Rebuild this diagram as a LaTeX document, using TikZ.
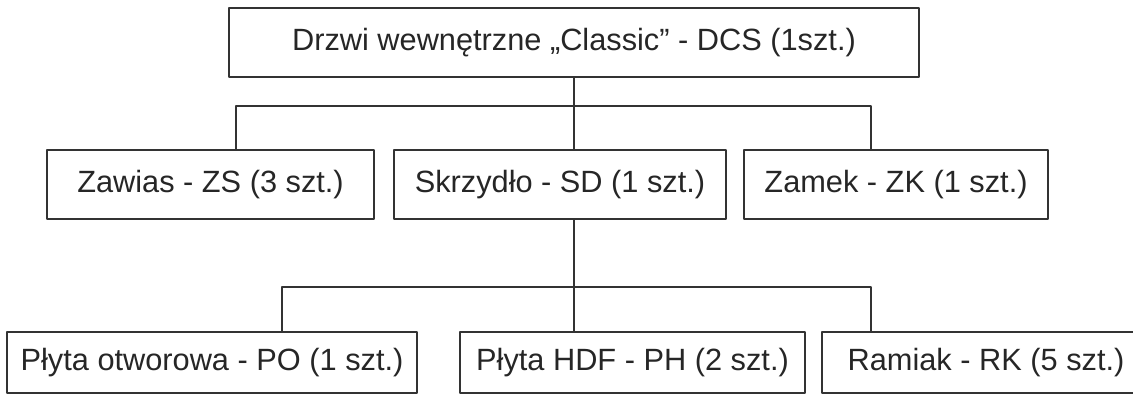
\documentclass[tikz,border=0pt]{standalone}
\usepackage{fontspec}
\setmainfont{Liberation Sans}
\begin{document}
\begin{tikzpicture}[x=0.02cm,y=-0.02cm,line join=round,line cap=round,
	font=\fontsize{17.5}{21}\selectfont,
	box/.style={draw=black!80,line width=1.1pt,text=black!85,inner sep=0pt,minimum height=1.38cm},
	lowbox/.style={box,minimum height=1.22cm},
	link/.style={draw=black!80,line width=1pt}]
	\useasboundingbox (0,0) rectangle (1133,398);
	\node [box,minimum width=13.8cm] (dcs) at (574,42.5) {Drzwi wewnętrzne „Classic” - DCS (1szt.)};
	\node [box,minimum width=6.54cm] (zs) at (210.5,184.5) {Zawias - ZS (3 szt.)};
	\node [box,minimum width=6.64cm] (sd) at (560,184.5) {Skrzydło - SD (1 szt.)};
	\node [box,minimum width=6.08cm] (zk) at (896,184.5) {Zamek - ZK (1 szt.)};
	\node [lowbox,minimum width=8.2cm] (po) at (212,362.5) {Płyta otworowa - PO (1 szt.)};
	\node [lowbox,minimum width=6.9cm] (ph) at (632.5,362.5) {Płyta HDF - PH (2 szt.)};
	\node [lowbox,minimum width=6.56cm] (rk) at (986,362.5) {Ramiak - RK (5 szt.)};
	\coordinate (legA) at (236,106);
	\coordinate (legB) at (871,106);
	\coordinate (legC) at (282,287);
	\coordinate (legD) at (871,287);
	\draw[link] (dcs.south) -- (dcs.south |- sd.north);
	\draw[link] (zs.north -| legA) -- (legA) -- (legB) -- (zk.north -| legB);
	\draw[link] (dcs.south |- sd.south) -- (dcs.south |- ph.north);
	\draw[link] (po.north -| legC) -- (legC) -- (legD) -- (rk.north -| legD);
\end{tikzpicture}
\end{document}
